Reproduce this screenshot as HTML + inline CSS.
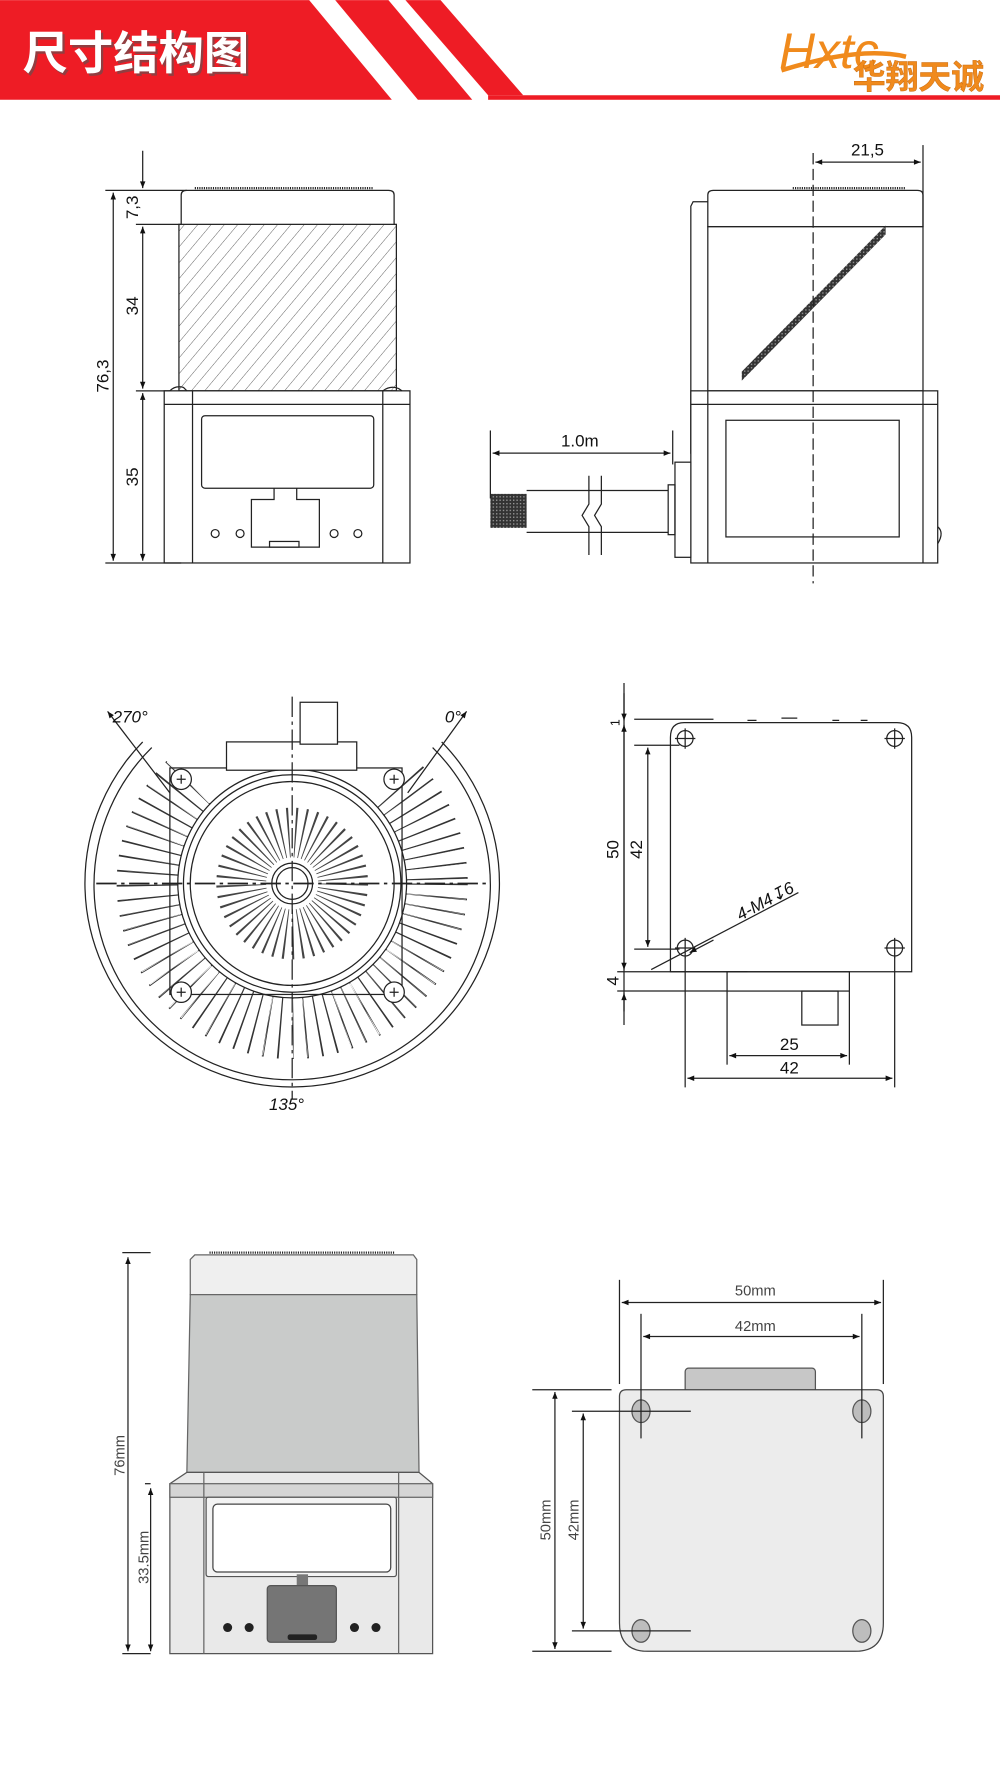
<!DOCTYPE html>
<html><head><meta charset="utf-8"><style>
html,body{margin:0;padding:0;background:#fff;width:1000px;height:1776px;overflow:hidden}
svg{display:block}
text{font-family:"Liberation Sans","Noto Sans CJK SC",sans-serif}
</style></head><body>
<svg width="1000" height="1776" viewBox="0 0 883 1568" xmlns="http://www.w3.org/2000/svg">
<defs>
<pattern id="hat" width="9" height="9" patternUnits="userSpaceOnUse" patternTransform="rotate(40)">
<line x1="0" y1="0" x2="0" y2="9" stroke="#555" stroke-width="0.8"/></pattern>
<pattern id="mesh" width="3" height="3" patternUnits="userSpaceOnUse"><rect width="3" height="3" fill="#333"/><rect width="1.2" height="1.2" fill="#999"/></pattern>
<marker id="ar" viewBox="0 0 10 10" refX="10" refY="5" markerWidth="9" markerHeight="6" orient="auto-start-reverse" markerUnits="userSpaceOnUse"><path d="M0,1 L10,5 L0,9 z" fill="#111"/></marker>
<clipPath id="wedge"><path d="M258,780 L0,520 L0,1100 L520,1100 L520,520 Z"/></clipPath>
</defs>

<!-- header -->
<polygon points="0,0 273,0 346,88 0,88" fill="#ee1c25"/>
<polygon points="296,0 343,0 417,88 369,88" fill="#ee1c25"/>
<polygon points="358,0 389,0 462,84 431,84" fill="#ee1c25"/>
<rect x="431" y="84" width="452" height="4" fill="#ee1c25"/>
<text x="22" y="63" font-size="40" font-weight="bold" fill="#555" opacity="0.6">尺寸结构图</text>
<text x="20" y="61" font-size="40" font-weight="bold" fill="#fff">尺寸结构图</text>
<text x="688" y="60" font-size="44" font-style="italic" font-family="Liberation Serif,serif" fill="#f08a1c">Hxtc</text>
<path d="M690,62 Q760,40 800,50" stroke="#f08a1c" stroke-width="4" fill="none"/>
<text x="753" y="78" font-size="29" font-weight="bold" fill="#f08a1c" stroke="#c76a10" stroke-width="0.4">华翔天诚</text>

<g stroke="#222" stroke-width="1.1" fill="none">
<!-- top-left view -->
<path d="M160,198 L160,172 Q160,168 165,168 L343,168 Q348,168 348,172 L348,198" fill="#fff"/>
<line x1="172" y1="166" x2="330" y2="166" stroke-width="2" stroke-dasharray="1 1"/>
<rect x="158" y="198" width="192" height="147" fill="url(#hat)"/>
<rect x="145" y="345" width="217" height="152" fill="#fff"/>
<line x1="170" y1="345" x2="170" y2="497"/><line x1="338" y1="345" x2="338" y2="497"/>
<line x1="145" y1="357" x2="362" y2="357"/>
<rect x="178" y="367" width="152" height="64" rx="3"/>
<path d="M242,431 L242,441 L222,441 L222,483 L282,483 L282,441 L262,441 L262,431"/>
<rect x="238" y="478" width="26" height="5"/>
<circle cx="190" cy="471" r="3.5"/><circle cx="212" cy="471" r="3.5"/><circle cx="295" cy="471" r="3.5"/><circle cx="316" cy="471" r="3.5"/>
<path d="M150,345 Q155,340 162,342 L165,345 M338,345 Q345,340 352,343 L355,345"/>
<line x1="93" y1="168" x2="165" y2="168"/><line x1="120" y1="198" x2="160" y2="198"/>
<line x1="120" y1="345" x2="150" y2="345"/><line x1="93" y1="497" x2="160" y2="497"/>
<line x1="100" y1="170" x2="100" y2="495" marker-start="url(#ar)" marker-end="url(#ar)"/>
<line x1="126" y1="133" x2="126" y2="166" marker-end="url(#ar)"/>
<line x1="126" y1="200" x2="126" y2="343" marker-start="url(#ar)" marker-end="url(#ar)"/>
<line x1="126" y1="347" x2="126" y2="495" marker-start="url(#ar)" marker-end="url(#ar)"/>

<!-- top-right view -->
<path d="M625,200 L625,172 Q625,168 630,168 L810,168 Q815,168 815,172 L815,200 Z" fill="#fff"/>
<line x1="700" y1="166" x2="800" y2="166" stroke-width="2" stroke-dasharray="1 1"/>
<rect x="625" y="200" width="190" height="145"/>
<path d="M625,178 L612,178 L610,182 L610,400 L625,400"/>
<rect x="610" y="345" width="218" height="152" fill="#fff"/>
<line x1="625" y1="345" x2="625" y2="497"/><line x1="815" y1="345" x2="815" y2="497"/>
<line x1="610" y1="357" x2="828" y2="357"/>
<rect x="641" y="371" width="153" height="103"/>
<polygon points="655,328 655,336 782,207 782,199" fill="url(#mesh)" stroke="none"/>
<path d="M828,465 Q834,470 828,480"/>
<line x1="718" y1="135" x2="718" y2="515" stroke-dasharray="10 4"/>
<line x1="815" y1="128" x2="815" y2="200"/>
<line x1="720" y1="143" x2="813" y2="143" marker-start="url(#ar)" marker-end="url(#ar)"/>
<rect x="596" y="408" width="14" height="84" fill="#fff"/>
<rect x="590" y="428" width="6" height="44"/>
<path d="M465,433 L590,433 M465,470 L590,470"/>
<rect x="433" y="436" width="32" height="30" fill="url(#mesh)" stroke="none"/>
<line x1="433" y1="380" x2="433" y2="440"/><line x1="594" y1="380" x2="594" y2="410"/>
<line x1="435" y1="400" x2="592" y2="400" marker-start="url(#ar)" marker-end="url(#ar)"/>
<path d="M520,420 L520,445 L514,455 L520,465 L520,490 M531,420 L531,445 L525,455 L531,465 L531,490" stroke="#222" fill="#fff"/>

<!-- middle-left circular view -->
<path d="M126,655 A183,180 0 1 0 390,655"/>
<path d="M134,660 A175,172 0 1 0 382,660"/>
<line x1="95" y1="628" x2="150" y2="700" marker-start="url(#ar)"/>
<line x1="412" y1="628" x2="360" y2="700" marker-start="url(#ar)"/>
<g clip-path="url(#wedge)">
<circle cx="258" cy="780" r="128" stroke-width="54" stroke-dasharray="1.3 9.8" stroke="#333"/>
<circle cx="258" cy="780" r="128" stroke-width="52" stroke-dasharray="0.01 11.1" stroke="#fff" stroke-dashoffset="-0.6"/>
</g>
<circle cx="258" cy="780" r="101" fill="#fff"/>
<circle cx="258" cy="780" r="96"/>
<circle cx="258" cy="780" r="90"/>
<circle cx="258" cy="780" r="45" stroke-width="44" stroke-dasharray="1.3 5" stroke="#444"/>
<circle cx="258" cy="780" r="18" fill="#fff"/>
<circle cx="258" cy="780" r="14"/>
<rect x="150" y="678" width="205" height="200"/>
<rect x="200" y="655" width="115" height="25" fill="#fff"/>
<rect x="265" y="620" width="33" height="37" fill="#fff"/>
<g fill="#fff"><circle cx="160" cy="688" r="9"/><circle cx="348" cy="688" r="9"/><circle cx="160" cy="876" r="9"/><circle cx="348" cy="876" r="9"/></g>
<path d="M156,688 h8 M160,684 v8 M344,688 h8 M348,684 v8 M156,876 h8 M160,872 v8 M344,876 h8 M348,872 v8"/>
<line x1="85" y1="780" x2="432" y2="780" stroke-width="1.6" stroke-dasharray="18 4 3 4"/>
<line x1="258" y1="615" x2="258" y2="970" stroke-dasharray="18 4 3 4"/>

<!-- middle-right view -->
<path d="M604,638 L792,638 Q805,638 805,651 L805,858 L592,858 L592,651 Q592,638 604,638 Z" fill="#fff"/>
<path d="M560,635 L630,635 M660,636 h8 M690,634 h14 M735,636 h6 M760,636 h6"/>
<rect x="642" y="858" width="108" height="17"/>
<rect x="708" y="875" width="32" height="30"/>
<g><circle cx="605" cy="652" r="7"/><circle cx="790" cy="652" r="7"/><circle cx="605" cy="837" r="7"/><circle cx="790" cy="837" r="7"/>
<path d="M596,652 h18 M605,643 v18 M781,652 h18 M790,643 v18 M596,837 h18 M605,828 v18 M781,837 h18 M790,828 v18"/></g>
<line x1="551" y1="603" x2="551" y2="905"/>
<line x1="551" y1="612" x2="551" y2="636" marker-end="url(#ar)"/>
<line x1="551" y1="640" x2="551" y2="856" marker-start="url(#ar)" marker-end="url(#ar)"/>
<line x1="551" y1="893" x2="551" y2="877" marker-end="url(#ar)"/>
<line x1="560" y1="658" x2="600" y2="658"/><line x1="560" y1="838" x2="600" y2="838"/>
<line x1="545" y1="858" x2="660" y2="858"/><line x1="545" y1="875" x2="642" y2="875"/>
<line x1="572" y1="660" x2="572" y2="836" marker-start="url(#ar)" marker-end="url(#ar)"/>
<line x1="642" y1="875" x2="642" y2="940"/><line x1="750" y1="875" x2="750" y2="940"/>
<line x1="605" y1="845" x2="605" y2="960"/><line x1="790" y1="845" x2="790" y2="960"/>
<line x1="644" y1="932" x2="748" y2="932" marker-start="url(#ar)" marker-end="url(#ar)"/>
<line x1="607" y1="952" x2="788" y2="952" marker-start="url(#ar)" marker-end="url(#ar)"/>
<line x1="575" y1="856" x2="705" y2="788"/>
<line x1="630" y1="830" x2="609" y2="841" marker-end="url(#ar)"/>

<!-- bottom-left colored view -->
<path d="M168,1143 L168,1112 L172,1108 L365,1108 L368,1112 L368,1143 Z" fill="#efefef" stroke="#666"/>
<line x1="185" y1="1106" x2="348" y2="1106" stroke-width="2" stroke-dasharray="1 1"/>
<path d="M168,1143 L368,1143 L370,1300 L165,1300 Z" fill="#c9cbca" stroke="#666"/>
<path d="M165,1300 L370,1300 L382,1310 L382,1460 L150,1460 L150,1310 Z" fill="#e9e9e9" stroke="#555"/>
<rect x="150" y="1310" width="232" height="12" fill="#d5d5d5" stroke="#666"/>
<line x1="180" y1="1300" x2="180" y2="1460" stroke="#666"/><line x1="352" y1="1300" x2="352" y2="1460" stroke="#666"/>
<rect x="182" y="1322" width="168" height="70" rx="2" fill="#f3f3f3" stroke="#555"/>
<rect x="188" y="1328" width="157" height="60" rx="4" fill="#fff" stroke="#444"/>
<rect x="262" y="1390" width="10" height="12" fill="#777" stroke="none"/>
<rect x="236" y="1400" width="61" height="50" rx="3" fill="#757575" stroke="#555"/>
<rect x="254" y="1443" width="26" height="5" rx="2" fill="#222" stroke="none"/>
<g fill="#222" stroke="none"><circle cx="201" cy="1437" r="4"/><circle cx="220" cy="1437" r="4"/><circle cx="313" cy="1437" r="4"/><circle cx="332" cy="1437" r="4"/></g>
<line x1="108" y1="1106" x2="133" y2="1106"/><line x1="108" y1="1460" x2="133" y2="1460"/><line x1="128" y1="1310" x2="133" y2="1310"/>
<line x1="113" y1="1110" x2="113" y2="1458" marker-start="url(#ar)" marker-end="url(#ar)"/>
<line x1="133" y1="1314" x2="133" y2="1458" marker-start="url(#ar)" marker-end="url(#ar)"/>

<!-- bottom-right colored view -->
<rect x="605" y="1208" width="115" height="22" rx="3" fill="#c7c7c7" stroke="#555"/>
<path d="M553,1227 L774,1227 Q780,1227 780,1233 L780,1433 Q780,1458 755,1458 L572,1458 Q547,1458 547,1433 L547,1233 Q547,1227 553,1227 Z" fill="#ececec" stroke="#444"/>
<g fill="#bdbdbd" stroke="#555"><ellipse cx="566" cy="1246" rx="8" ry="10"/><ellipse cx="761" cy="1246" rx="8" ry="10"/><ellipse cx="566" cy="1440" rx="8" ry="10"/><ellipse cx="761" cy="1440" rx="8" ry="10"/></g>
<line x1="547" y1="1130" x2="547" y2="1222"/><line x1="780" y1="1130" x2="780" y2="1222"/>
<line x1="566" y1="1160" x2="566" y2="1270"/><line x1="761" y1="1160" x2="761" y2="1270"/>
<line x1="549" y1="1150" x2="778" y2="1150" marker-start="url(#ar)" marker-end="url(#ar)"/>
<line x1="568" y1="1180" x2="759" y2="1180" marker-start="url(#ar)" marker-end="url(#ar)"/>
<line x1="470" y1="1227" x2="540" y2="1227"/><line x1="470" y1="1458" x2="540" y2="1458"/>
<line x1="505" y1="1246" x2="610" y2="1246"/><line x1="505" y1="1440" x2="610" y2="1440"/>
<line x1="490" y1="1229" x2="490" y2="1456" marker-start="url(#ar)" marker-end="url(#ar)"/>
<line x1="515" y1="1248" x2="515" y2="1438" marker-start="url(#ar)" marker-end="url(#ar)"/>
</g>

<g fill="#111" font-size="15">
<text transform="translate(122,183) rotate(-90)" text-anchor="middle">7,3</text>
<text transform="translate(122,270) rotate(-90)" text-anchor="middle">34</text>
<text transform="translate(122,421) rotate(-90)" text-anchor="middle">35</text>
<text transform="translate(96,332) rotate(-90)" text-anchor="middle">76,3</text>
<text x="766" y="137" text-anchor="middle">21,5</text>
<text x="512" y="394" text-anchor="middle">1.0m</text>
<text x="115" y="638" text-anchor="middle" font-style="italic">270°</text>
<text x="400" y="638" text-anchor="middle" font-style="italic">0°</text>
<text x="253" y="980" text-anchor="middle" font-style="italic">135°</text>
<text transform="translate(546,750) rotate(-90)" text-anchor="middle">50</text>
<text transform="translate(567,750) rotate(-90)" text-anchor="middle">42</text>
<text transform="translate(546,866) rotate(-90)" text-anchor="middle">4</text>
<text transform="translate(547,638) rotate(-90)" text-anchor="middle" font-size="11">1</text>
<text x="697" y="927" text-anchor="middle">25</text>
<text x="697" y="948" text-anchor="middle">42</text>
<text transform="translate(678,800) rotate(-28)" text-anchor="middle" font-style="italic">4-M4↧6</text>
</g>
<g fill="#444" font-size="13">
<text transform="translate(110,1285) rotate(-90)" text-anchor="middle">76mm</text>
<text transform="translate(131,1375) rotate(-90)" text-anchor="middle">33.5mm</text>
<text x="667" y="1144" text-anchor="middle">50mm</text>
<text x="667" y="1175" text-anchor="middle">42mm</text>
<text transform="translate(486,1342) rotate(-90)" text-anchor="middle">50mm</text>
<text transform="translate(511,1342) rotate(-90)" text-anchor="middle">42mm</text>
</g>
</svg>
</body></html>
